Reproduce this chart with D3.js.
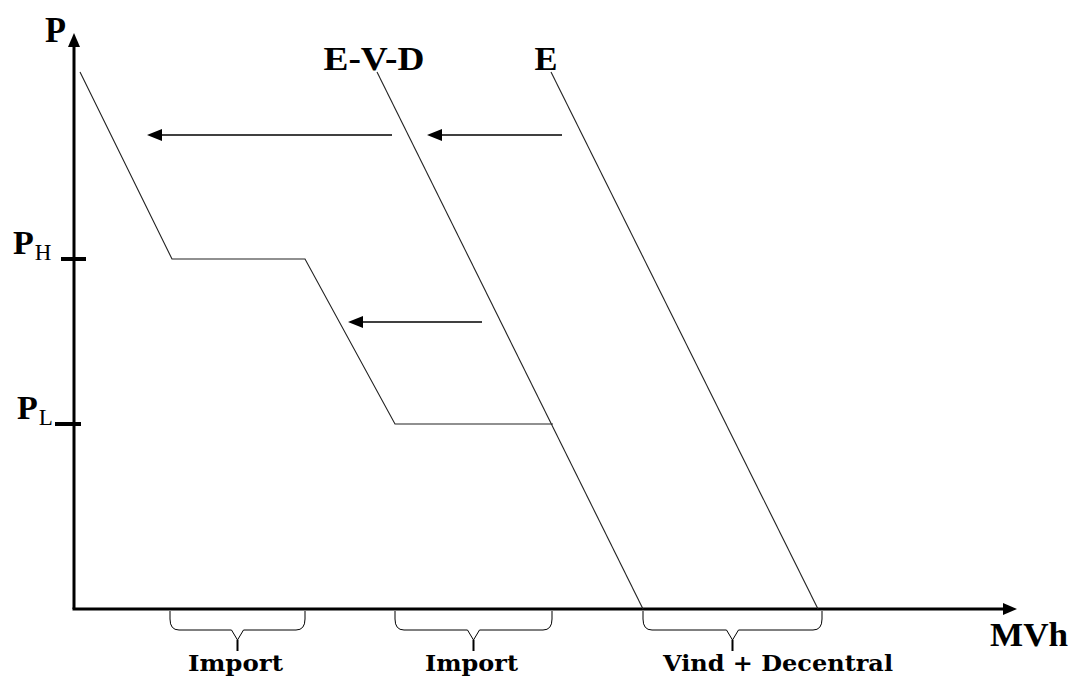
<!DOCTYPE html>
<html><head><meta charset="utf-8">
<script src="https://cdn.jsdelivr.net/npm/d3@7"></script>
<style>html,body{margin:0;padding:0;background:#fff;}svg{display:block;}</style>
</head><body>
<svg id="c" width="1074" height="682"></svg>
<script>
// Data (quantity units along MVh axis, price units along P axis)
const supplyCurve = [[6,537],[98,350],[231,350],[321,185],[479,185]];
const demandEVD = [[303,537],[569,0]];
const demandE = [[477,537],[744,0]];
const priceLevels = [{name:"H", value:350},{name:"L", value:185}];
const shiftArrows = [
  {y:474, from:318, to:73},
  {y:474, from:488, to:353},
  {y:287, from:408, to:274}
];
const braces = [
  {from:96, to:231, label:"Import"},
  {from:321, to:478, label:"Import"},
  {from:569, to:748, label:"Vind + Decentral"}
];
const curveLabels = [{text:"E-V-D", at:300}, {text:"E", at:472}];

const svg = d3.select("#c");
const x = d3.scaleLinear().domain([0,943]).range([74,1017]);
const y = d3.scaleLinear().domain([0,576]).range([609,33]);
const line = d3.line().x(d=>x(d[0])).y(d=>y(d[1]));
const serif = "Liberation Serif";

// axes
svg.append("line").attr("x1",x(0)).attr("y1",y(0)).attr("x2",x(0)).attr("y2",y(576)+10)
  .attr("stroke","#000").attr("stroke-width",3);
svg.append("path").attr("d",`M${x(0)},${y(576)} L${x(0)-6},${y(576)+14} L${x(0)+6},${y(576)+14} Z`).attr("fill","#000");
svg.append("line").attr("x1",x(0)-1.5).attr("y1",y(0)).attr("x2",x(943)-10).attr("y2",y(0))
  .attr("stroke","#000").attr("stroke-width",3);
svg.append("path").attr("d",`M${x(943)},${y(0)} L${x(943)-14},${y(0)-6} L${x(943)-14},${y(0)+6} Z`).attr("fill","#000");

// axis titles
svg.append("text").attr("x",45).attr("y",42).text("P")
  .attr("font-family",serif).attr("font-weight","bold").attr("font-size",35)
  .attr("textLength",21).attr("lengthAdjust","spacingAndGlyphs");
svg.append("text").attr("x",990).attr("y",646).text("MVh")
  .attr("font-family",serif).attr("font-weight","bold").attr("font-size",34)
  .attr("textLength",78).attr("lengthAdjust","spacingAndGlyphs");

// price ticks and labels
const tickOff = {H:[-13,12], L:[-19,7]};
const labelX = {H:13, L:17};
priceLevels.forEach(p=>{
  const yy = y(p.value);
  svg.append("line").attr("x1",x(0)+tickOff[p.name][0]).attr("x2",x(0)+tickOff[p.name][1])
    .attr("y1",yy).attr("y2",yy).attr("stroke","#000").attr("stroke-width",4);
  const t = svg.append("text").attr("x",labelX[p.name]).attr("y",yy-5)
    .attr("font-family",serif).attr("font-size",34);
  t.append("tspan").attr("font-weight","bold").text("P");
  t.append("tspan").attr("font-size",23).attr("dx",1).attr("dy",6).text(p.name);
});

// curves
[supplyCurve, demandEVD, demandE].forEach(c=>{
  svg.append("path").attr("d",line(c)).attr("fill","none").attr("stroke","#222").attr("stroke-width",1.1);
});

// curve labels
const labelW = {"E-V-D":101, "E":23};
curveLabels.forEach(l=>{
  svg.append("text").attr("x",x(l.at)).attr("y",y(537)-2).attr("text-anchor","middle").text(l.text)
    .attr("font-family",serif).attr("font-weight","bold").attr("font-size",34)
    .attr("textLength",labelW[l.text]).attr("lengthAdjust","spacingAndGlyphs");
});

// arrows
shiftArrows.forEach(a=>{
  const yy = y(a.y);
  svg.append("line").attr("x1",x(a.from)).attr("x2",x(a.to)+12).attr("y1",yy).attr("y2",yy)
    .attr("stroke","#000").attr("stroke-width",1.5);
  svg.append("path").attr("d",`M${x(a.to)},${yy} L${x(a.to)+15},${yy-6} L${x(a.to)+15},${yy+6} Z`).attr("fill","#000");
});

// braces
braces.forEach(b=>{
  const a = x(b.from), c = x(b.to), m = (a+c)/2;
  const y0 = y(0)+2, y1 = y(0)+21, y2 = y(0)+31, y3 = y(0)+42;
  const d = `M${a},${y0} L${a},${y0+8} Q${a},${y1} ${a+9},${y1} L${m-6},${y1} L${m},${y2} L${m},${y3}` +
            `M${m},${y2} L${m+6},${y1} L${c-9},${y1} Q${c},${y1} ${c},${y0+8} L${c},${y0}`;
  svg.append("path").attr("d",d).attr("fill","none").attr("stroke","#000").attr("stroke-width",1);
  svg.append("line").attr("x1",m).attr("x2",m).attr("y1",y2).attr("y2",y3).attr("stroke","#000").attr("stroke-width",2);
});
const labelStart = [188, 425, 663];
const labelLen = [95, 93, 230];
braces.forEach((b,i)=>{
  svg.append("text").attr("x",labelStart[i]).attr("y",671).text(b.label)
    .attr("font-family","DejaVu Serif").attr("font-weight","bold").attr("font-size",22)
    .attr("textLength",labelLen[i]).attr("lengthAdjust","spacingAndGlyphs");
});
</script>
</body></html>
